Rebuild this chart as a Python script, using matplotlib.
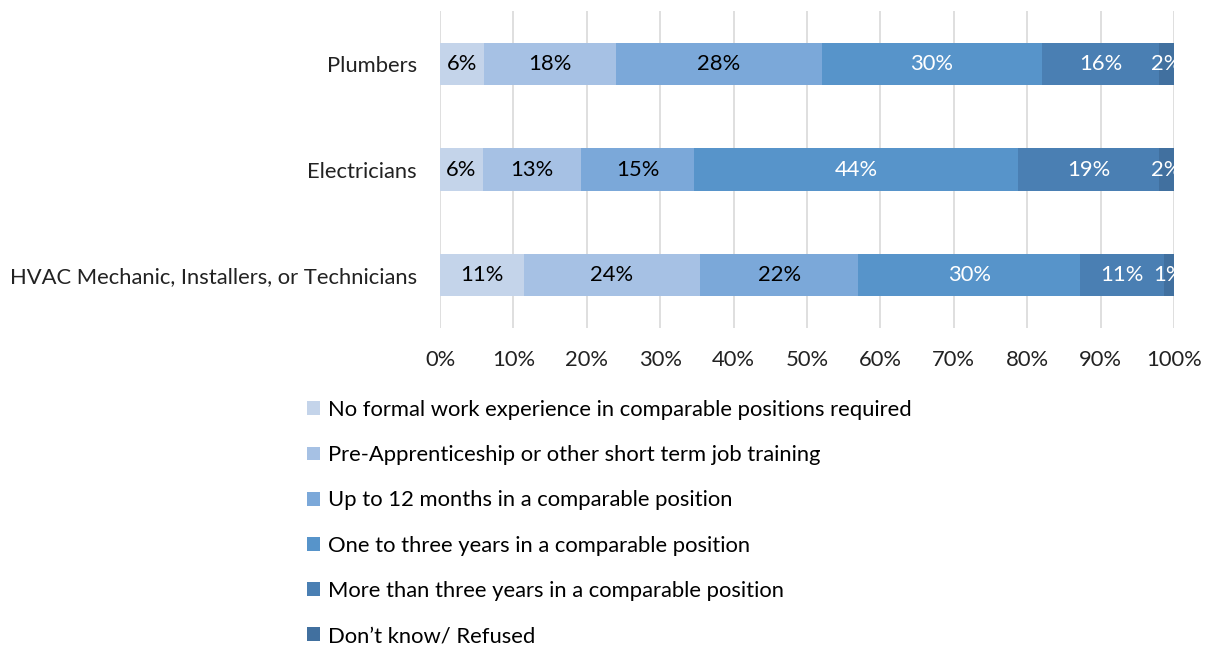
import numpy as np
import matplotlib.pyplot as plt

plt.rcParams['font.family'] = ['Lato', 'DejaVu Sans']

# categories (top to bottom)
categories = ['Plumbers', 'Electricians', 'HVAC Mechanic, Installers, or Technicians']

series_names = [
    'No formal work experience in comparable positions required',
    'Pre-Apprenticeship or other short term job training',
    'Up to 12 months in a comparable position',
    'One to three years in a comparable position',
    'More than three years in a comparable position',
    'Don\u2019t know/ Refused',
]

# percentage values per series, one entry per category
no_formal = [6.0, 5.8, 11.4]
pre_appr = [18.0, 13.4, 24.0]
up_to_12 = [28.0, 15.4, 21.6]
one_three = [30.0, 44.2, 30.2]
more_three = [16.0, 19.2, 11.4]
dont_know = [2.0, 2.0, 1.4]

series = [no_formal, pre_appr, up_to_12, one_three, more_three, dont_know]
colors = ['#C4D4EA', '#A6C1E4', '#7BA8D9', '#5794CA', '#4A7FB3', '#41709F']
label_colors = ['black', 'black', 'black', 'white', 'white', 'white']

fs = 15.8

fig = plt.figure(figsize=(12.05, 6.47), dpi=100)
ax = fig.add_axes([440 / 1205, 1 - 328 / 647, 734 / 1205, 317 / 647])

y = np.arange(len(categories))
left = np.zeros(len(categories))
for vals, name, col, tcol in zip(series, series_names, colors, label_colors):
    vals = np.array(vals)
    bars = ax.barh(y, vals, left=left, height=0.4, color=col, label=name, zorder=3)
    ax.bar_label(bars, labels=['%d%%' % round(v) for v in vals],
                 label_type='center', color=tcol, fontsize=fs)
    left += vals

ax.set_xlim(0, 100)
ax.set_ylim(-0.5, 2.5)
ax.invert_yaxis()
ax.set_yticks(y)
ax.set_yticklabels(categories, fontsize=fs)
ax.set_xticks(np.arange(0, 101, 10))
ax.set_xticklabels(['%d%%' % v for v in range(0, 101, 10)], fontsize=fs)
ax.tick_params(axis='x', length=0, pad=16, colors='#222222')
ax.tick_params(axis='y', length=0, pad=16.5, colors='#222222')
ax.grid(axis='x', color='#D9D9D9', linewidth=1.2, zorder=0)
for s in ax.spines.values():
    s.set_visible(False)

ax.legend(loc='upper left', bbox_to_anchor=(307 / 1205, 1 - 400 / 647),
          bbox_transform=fig.transFigure, frameon=False, fontsize=fs,
          handlelength=0.6, handleheight=0.6, handletextpad=0.35,
          labelspacing=1.15, borderpad=0, borderaxespad=0)

fig.savefig('out.png', dpi=100)
